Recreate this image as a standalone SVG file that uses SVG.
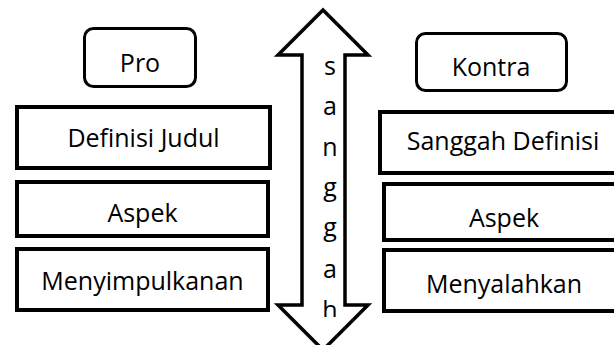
<svg xmlns="http://www.w3.org/2000/svg" width="614" height="345" viewBox="0 0 614 345">
<style>
.box{fill:#fff;stroke:#000;stroke-width:4}
.tbox{fill:#fff;stroke:#000;stroke-width:3}
.t{font-family:"Open Sans","Liberation Sans",sans-serif;font-size:25px;fill:#000;text-anchor:middle}
.arrow{fill:#fff;stroke:#000;stroke-width:3.5;stroke-linejoin:miter}
</style>
<defs>
<clipPath id="clipText"><rect x="300" y="40" width="60" height="277"/></clipPath>
</defs>
<rect width="614" height="345" fill="#fff"/>
<g id="connectors">
<g id="sanggah-arrow">
<polygon class="arrow" points="323,10 368,55 345,55 345,305 368,305 323,350 278,305 302,305 302,55 278,55"/>
<g clip-path="url(#clipText)">
<text class="t" x="330" y="75">s</text>
<text class="t" x="330" y="115">a</text>
<text class="t" x="330" y="156">n</text>
<text class="t" x="330" y="196">g</text>
<text class="t" x="330" y="236">g</text>
<text class="t" x="330" y="278">a</text>
<text class="t" x="330" y="319">h</text>
</g>
</g>
</g>
<g id="pro">
<rect class="tbox" x="84.5" y="28.5" width="111" height="58" rx="9"/>
<text class="t" x="140" y="72">Pro</text>
</g>
<g id="definisi-judul">
<rect class="box" x="17" y="107" width="253" height="61"/>
<text class="t" x="143.5" y="147">Definisi Judul</text>
</g>
<g id="aspek-pro">
<rect class="box" x="17" y="182" width="251" height="54"/>
<text class="t" x="142.5" y="222">Aspek</text>
</g>
<g id="menyimpulkanan">
<rect class="box" x="17" y="249" width="251" height="61"/>
<text class="t" x="142.5" y="290">Menyimpulkanan</text>
</g>
<g id="kontra">
<rect class="tbox" x="416.5" y="33.5" width="150" height="57" rx="9"/>
<text class="t" x="491" y="76">Kontra</text>
</g>
<g id="sanggah-definisi">
<rect class="box" x="380" y="112" width="245" height="61"/>
<text class="t" x="503" y="150">Sanggah Definisi</text>
</g>
<g id="aspek-kontra">
<rect class="box" x="384" y="184" width="241" height="56"/>
<text class="t" x="504" y="227">Aspek</text>
</g>
<g id="menyalahkan">
<rect class="box" x="384" y="250" width="241" height="61"/>
<text class="t" x="504" y="293">Menyalahkan</text>
</g>
</svg>
